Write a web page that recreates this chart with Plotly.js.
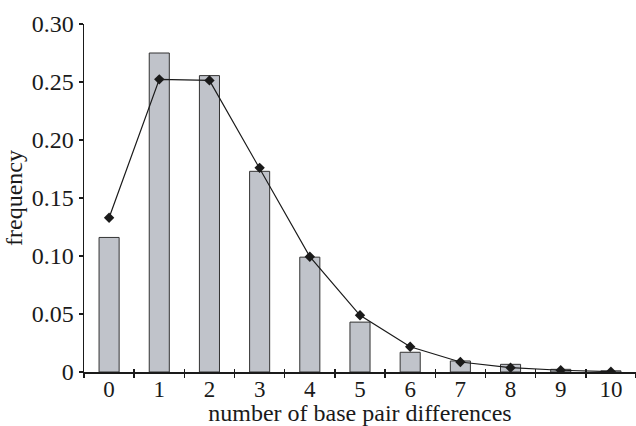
<!DOCTYPE html>
<html>
<head>
<meta charset="utf-8">
<script src="https://cdn.plot.ly/plotly-3.0.1.min.js"></script>
<style>html,body{margin:0;padding:0;background:#fff}#chart{width:636px;height:426px}</style>
</head>
<body>
<div id="chart"></div>
<script>
var categories = [0, 1, 2, 3, 4, 5, 6, 7, 8, 9, 10];
var observed = [0.116, 0.275, 0.2555, 0.173, 0.099, 0.043, 0.017, 0.0095, 0.0066, 0.0023, 0.001];
var expected = [0.133, 0.2523, 0.2514, 0.176, 0.0994, 0.0489, 0.0218, 0.0086, 0.0037, 0.0015, 0.0003];
var yTickVals = [0, 0.05, 0.10, 0.15, 0.20, 0.25, 0.30];
var yTickText = ["0", "0.05", "0.10", "0.15", "0.20", "0.25", "0.30"];
var xTickText = ["0", "1", "2", "3", "4", "5", "6", "7", "8", "9", "10"];
var xDividers = [-0.5, 0.5, 1.5, 2.5, 3.5, 4.5, 5.5, 6.5, 7.5, 8.5, 9.5, 10.5];

var font = "Liberation Serif";
var ink = "#1a1a1a";

var traces = [
  {
    type: "bar",
    x: categories,
    y: observed,
    width: 0.4,
    marker: {color: "#c0c3ca", line: {color: "#333333", width: 1}},
    hoverinfo: "x+y"
  },
  {
    type: "scatter",
    mode: "lines+markers",
    x: categories,
    y: expected,
    line: {color: ink, width: 1.2},
    marker: {symbol: "diamond", size: 8, color: ink}
  },
  {
    type: "scatter",
    mode: "markers",
    x: [categories[0]],
    y: [0],
    xaxis: "x2",
    marker: {opacity: 0},
    hoverinfo: "skip"
  }
];

var layout = {
  width: 636,
  height: 426,
  margin: {l: 84, r: 0, t: 24, b: 54},
  paper_bgcolor: "#ffffff",
  plot_bgcolor: "#ffffff",
  showlegend: false,
  font: {family: font, color: ink},
  xaxis: {
    range: [-0.5, 10.5],
    tickmode: "array",
    tickvals: categories,
    ticktext: xTickText,
    ticks: "",
    ticklabelstandoff: -4,
    tickfont: {size: 23, family: font, color: ink},
    showline: true,
    linecolor: ink,
    linewidth: 1.5,
    showgrid: false,
    zeroline: false,
    minor: {tickmode: "array", tickvals: xDividers, ticks: "outside", ticklen: 4, tickwidth: 1.5, tickcolor: ink, showgrid: false},
    title: {text: "number of base pair differences", font: {size: 24, family: font, color: ink}, standoff: 2}
  },
  xaxis2: {
    overlaying: "x",
    anchor: "y",
    side: "bottom",
    range: [-0.5, 10.5],
    tickmode: "array",
    tickvals: xDividers,
    ticks: "inside",
    ticklen: 3,
    tickwidth: 1.5,
    tickcolor: ink,
    showticklabels: false,
    showline: false,
    showgrid: false,
    zeroline: false
  },
  yaxis: {
    range: [0, 0.30],
    tickmode: "array",
    tickvals: yTickVals,
    ticktext: yTickText,
    ticks: "outside",
    ticklen: 4,
    tickwidth: 1.5,
    tickcolor: ink,
    tickfont: {size: 24, family: font, color: ink},
    showline: true,
    linecolor: ink,
    linewidth: 1.5,
    showgrid: false,
    zeroline: false,
    title: {text: "frequency", font: {size: 24, family: font, color: ink}, standoff: 2}
  },
  bargap: 0.6
};

Plotly.newPlot("chart", traces, layout, {displayModeBar: false, staticPlot: true});
</script>
</body>
</html>
